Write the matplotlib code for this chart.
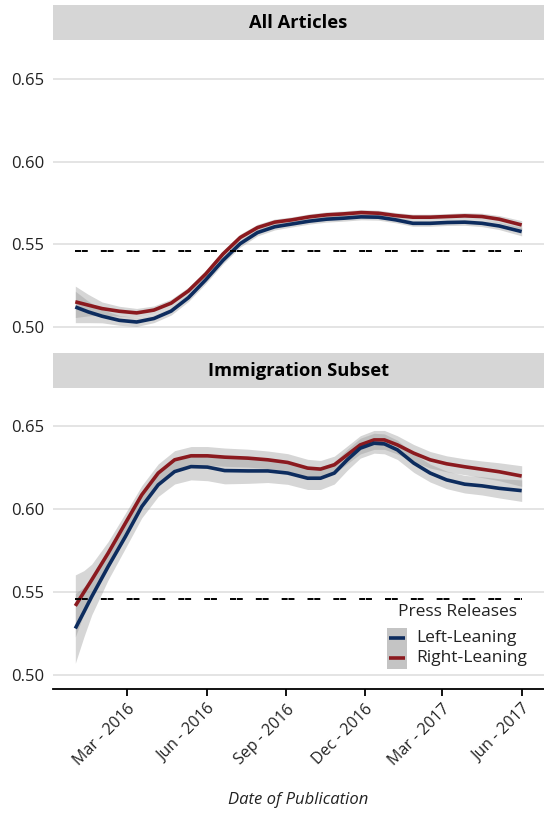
import matplotlib
matplotlib.use("Agg")
import matplotlib.pyplot as plt
import pandas as pd
from matplotlib.patches import Rectangle
from matplotlib.lines import Line2D

plt.rcParams['font.family'] = ['Open Sans', 'DejaVu Sans']
plt.rcParams['lines.scale_dashes'] = False

# ---------------- data ----------------
all_dates = ["2016-01-01", "2016-01-16", "2016-02-01", "2016-02-21", "2016-03-12",
             "2016-04-01", "2016-04-21", "2016-05-11", "2016-05-31", "2016-06-20",
             "2016-07-10", "2016-07-30", "2016-08-19", "2016-09-08", "2016-09-28",
             "2016-10-18", "2016-11-07", "2016-11-27", "2016-12-17", "2017-01-06",
             "2017-01-26", "2017-02-15", "2017-03-07", "2017-03-27", "2017-04-16",
             "2017-05-06", "2017-06-01"]
all_left = [0.5121, 0.5091, 0.5065, 0.5040, 0.5030, 0.5051, 0.5096, 0.5177, 0.5285,
            0.5403, 0.5504, 0.5571, 0.5606, 0.5623, 0.5640, 0.5652, 0.5658, 0.5666,
            0.5664, 0.5648, 0.5627, 0.5627, 0.5632, 0.5634, 0.5627, 0.5611, 0.5577]
all_right = [0.5152, 0.5132, 0.5111, 0.5095, 0.5085, 0.5102, 0.5144, 0.5218, 0.5320,
             0.5441, 0.5541, 0.5601, 0.5634, 0.5648, 0.5666, 0.5678, 0.5684, 0.5692,
             0.5688, 0.5674, 0.5664, 0.5664, 0.5668, 0.5672, 0.5668, 0.5652, 0.5617]
all_left_ci = [0.0095, 0.0065, 0.0040, 0.0030, 0.0027, 0.0025, 0.0024, 0.0023, 0.0023,
               0.0022, 0.0021, 0.0020, 0.0019, 0.0018, 0.0018, 0.0018, 0.0018, 0.0018,
               0.0018, 0.0018, 0.0018, 0.0018, 0.0018, 0.0019, 0.0020, 0.0022, 0.0026]
all_right_ci = [0.0095, 0.0065, 0.0040, 0.0030, 0.0027, 0.0025, 0.0024, 0.0023, 0.0023,
                0.0022, 0.0021, 0.0020, 0.0019, 0.0018, 0.0018, 0.0018, 0.0018, 0.0018,
                0.0018, 0.0018, 0.0018, 0.0018, 0.0018, 0.0019, 0.0020, 0.0022, 0.0026]

imm_dates = ["2016-01-01", "2016-01-11", "2016-01-20", "2016-02-08", "2016-02-28",
             "2016-03-18", "2016-04-06", "2016-04-25", "2016-05-14", "2016-06-02",
             "2016-06-22", "2016-07-19", "2016-08-11", "2016-09-03", "2016-09-26",
             "2016-10-11", "2016-10-27", "2016-11-11", "2016-11-26", "2016-12-12",
             "2016-12-24", "2017-01-08", "2017-01-27", "2017-02-15", "2017-03-06",
             "2017-03-27", "2017-04-16", "2017-05-06", "2017-06-01"]
imm_left = [0.5280, 0.5380, 0.5472, 0.5653, 0.5834, 0.6015, 0.6146, 0.6226, 0.6256,
            0.6253, 0.6232, 0.6230, 0.6230, 0.6217, 0.6186, 0.6186, 0.6217, 0.6297,
            0.6367, 0.6397, 0.6393, 0.6357, 0.6277, 0.6217, 0.6176, 0.6150, 0.6140,
            0.6125, 0.6111]
imm_right = [0.5416, 0.5499, 0.5573, 0.5734, 0.5915, 0.6086, 0.6217, 0.6297, 0.6321,
             0.6321, 0.6313, 0.6307, 0.6297, 0.6281, 0.6247, 0.6241, 0.6267, 0.6327,
             0.6387, 0.6417, 0.6417, 0.6387, 0.6337, 0.6297, 0.6273, 0.6255, 0.6240,
             0.6225, 0.6199]
imm_left_ci = [0.0210, 0.0150, 0.0110, 0.0080, 0.0070, 0.0068, 0.0070, 0.0075, 0.0080,
               0.0082, 0.0080, 0.0075, 0.0070, 0.0068, 0.0068, 0.0068, 0.0066, 0.0063,
               0.0060, 0.0060, 0.0060, 0.0058, 0.0056, 0.0054, 0.0053, 0.0053, 0.0055,
               0.0058, 0.0065]
imm_right_ci = [0.0187, 0.0130, 0.0095, 0.0070, 0.0060, 0.0056, 0.0055, 0.0055, 0.0056,
                0.0056, 0.0055, 0.0054, 0.0053, 0.0053, 0.0053, 0.0052, 0.0052, 0.0053,
                0.0055, 0.0057, 0.0057, 0.0055, 0.0052, 0.0050, 0.0048, 0.0048, 0.0050,
                0.0054, 0.0062]

baseline = 0.546
panel_titles = ["All Articles", "Immigration Subset"]
series_names = ["Left-Leaning", "Right-Leaning"]
tick_dates = ["2016-03-01", "2016-06-01", "2016-09-01", "2016-12-01", "2017-03-01", "2017-06-01"]
tick_labels = ["Mar - 2016", "Jun - 2016", "Sep - 2016", "Dec - 2016", "Mar - 2017", "Jun - 2017"]
y_ticks = [0.50, 0.55, 0.60, 0.65]
y_tick_labels = ["0.50", "0.55", "0.60", "0.65"]

# ---------------- style ----------------
BLUE = "#0D2C5E"
RED = "#8B1A1F"
RIBBON = "#999999"
STRIP = "#D6D6D6"
GRID = "#DCDCDC"
TXT = "#222222"
LW = 2.6

W, H = 544, 813
fig = plt.figure(figsize=(W / 100, H / 100), dpi=100)


def fy(py):
    return 1 - py / H


x0 = pd.Timestamp(all_dates[0])
x1 = pd.Timestamp(all_dates[-1])
span = x1 - x0
xlim = (x0 - span * 0.05, x1 + span * 0.05)
ylim = (0.4915, 0.673)

panels = [
    (all_dates, all_left, all_left_ci, all_right, all_right_ci, 41, 341, 5, 40),
    (imm_dates, imm_left, imm_left_ci, imm_right, imm_right_ci, 388, 689, 353, 388),
]

axes = []
for i, (dts, lv, lci, rv, rci, ptop, pbot, stop, sbot) in enumerate(panels):
    x = pd.to_datetime(dts)
    ax = fig.add_axes([53 / W, fy(pbot), 491 / W, (pbot - ptop) / H])
    axes.append(ax)
    # ribbons and lines (right first, left drawn over)
    lo = [v - c for v, c in zip(rv, rci)]
    hi = [v + c for v, c in zip(rv, rci)]
    ax.fill_between(x, lo, hi, color=RIBBON, alpha=0.4, lw=0)
    ax.plot(x, rv, color=RED, lw=LW, solid_capstyle='butt', solid_joinstyle='round')
    lo = [v - c for v, c in zip(lv, lci)]
    hi = [v + c for v, c in zip(lv, lci)]
    ax.fill_between(x, lo, hi, color=RIBBON, alpha=0.4, lw=0)
    ax.plot(x, lv, color=BLUE, lw=LW, solid_capstyle='butt', solid_joinstyle='round')
    ax.plot([x[0], x[-1]], [baseline, baseline], color="black", lw=1.4,
            dashes=(4.3, 0.6, 4.3, 9.4))

    ax.set_xlim(*xlim)
    ax.set_ylim(*ylim)
    ax.set_yticks(y_ticks)
    ax.set_yticklabels(y_tick_labels)
    ax.yaxis.grid(True, color=GRID, lw=1.1)
    ax.set_axisbelow(True)
    ax.tick_params(axis='y', length=0, pad=6.5, labelsize=12, labelcolor=TXT)
    for s in ax.spines.values():
        s.set_visible(False)

    # strip
    sax = fig.add_axes([53 / W, fy(sbot), 491 / W, (sbot - stop) / H])
    sax.set_facecolor(STRIP)
    sax.set_xticks([])
    sax.set_yticks([])
    for s in sax.spines.values():
        s.set_visible(False)
    sax.text(0.5, 0.5, panel_titles[i], ha='center', va='center',
             fontsize=13.2, fontweight='bold', color="black", transform=sax.transAxes)

axes[0].set_xticks([])
axb = axes[1]
axb.spines['bottom'].set_visible(True)
axb.spines['bottom'].set_color("black")
axb.spines['bottom'].set_linewidth(1.3)
axb.set_xticks(pd.to_datetime(tick_dates))
axb.set_xticklabels(tick_labels, rotation=45, ha='right', rotation_mode='anchor')
axb.tick_params(axis='x', length=5, width=1.3, color="black", pad=4,
                labelsize=11.5, labelcolor=TXT)

fig.text(298.5 / W, fy(800), "Date of Publication", ha='center', va='center',
         fontsize=12, style='italic', color=TXT)

# legend
fig.text(398 / W, fy(612), "Press Releases", ha='left', va='center', fontsize=12.5, color=TXT)
fig.patches.append(Rectangle((387 / W, fy(669)), 20 / W, 41 / H, transform=fig.transFigure,
                             facecolor="#C4C4C4", edgecolor='none'))
for yy, col, name in [(638, BLUE, series_names[0]), (658, RED, series_names[1])]:
    fig.lines.append(Line2D([389 / W, 405 / W], [fy(yy), fy(yy)], transform=fig.transFigure,
                            color=col, lw=LW, solid_capstyle='butt'))
    fig.text(416 / W, fy(yy), name, ha='left', va='center', fontsize=12.5, color=TXT)

fig.savefig("out.png", dpi=100)
